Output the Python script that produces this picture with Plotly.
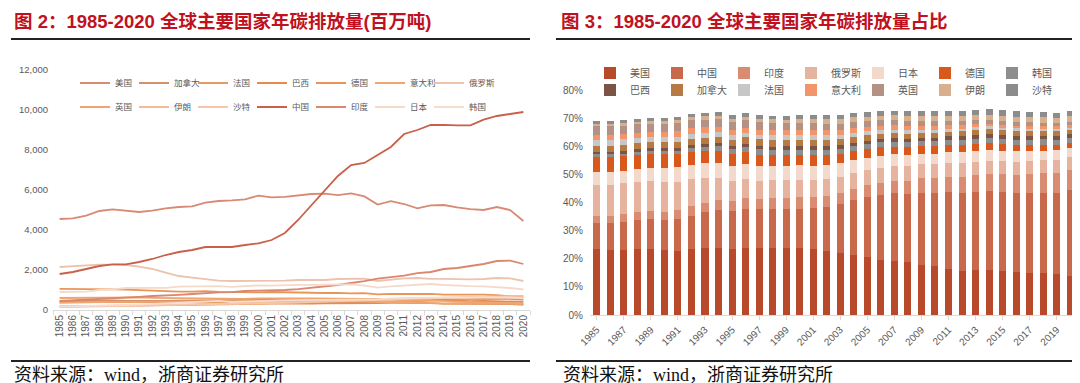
import plotly.graph_objects as go

W, H = 1080, 383

YEARS = [str(y) for y in range(1985, 2021)]

# Annual carbon emissions, million tonnes
US = [4550, 4580, 4720, 4950, 5030, 4950, 4900, 4970, 5080, 5150,
      5180, 5370, 5450, 5480, 5530, 5720, 5630, 5660, 5720, 5800,
      5820, 5740, 5830, 5680, 5270, 5440, 5300, 5080, 5230, 5250,
      5130, 5040, 5000, 5150, 5000, 4450]
CHINA = [1800, 1900, 2050, 2200, 2280, 2280, 2400, 2550, 2750, 2900,
         3000, 3150, 3150, 3150, 3250, 3330, 3500, 3850, 4500, 5250,
         6000, 6700, 7250, 7350, 7750, 8150, 8800, 9000, 9250, 9260,
         9230, 9230, 9520, 9700, 9800, 9900]
INDIA = [450, 480, 520, 560, 600, 620, 660, 700, 720, 760,
         800, 850, 880, 890, 950, 970, 980, 1000, 1040, 1100,
         1170, 1250, 1350, 1440, 1570, 1650, 1720, 1840, 1900, 2050,
         2100, 2200, 2300, 2450, 2470, 2300]
RUSSIA = [2150, 2200, 2250, 2270, 2270, 2250, 2170, 2050, 1870, 1700,
          1620, 1560, 1470, 1450, 1450, 1460, 1460, 1470, 1500, 1500,
          1500, 1550, 1550, 1570, 1450, 1530, 1580, 1600, 1560, 1560,
          1530, 1530, 1550, 1600, 1580, 1450]
JAPAN = [900, 900, 920, 1000, 1030, 1100, 1100, 1120, 1110, 1170,
         1180, 1200, 1190, 1160, 1200, 1230, 1220, 1250, 1260, 1260,
         1270, 1250, 1280, 1220, 1120, 1180, 1230, 1280, 1300, 1250,
         1210, 1190, 1180, 1150, 1100, 1030]
GERMANY = [1060, 1060, 1050, 1040, 1030, 1020, 990, 950, 940, 920,
           920, 940, 910, 890, 870, 880, 900, 880, 880, 870,
           850, 860, 830, 840, 780, 810, 790, 800, 810, 770,
           770, 780, 770, 740, 680, 630]
KOREA = [170, 180, 190, 210, 230, 250, 270, 300, 340, 370,
         400, 430, 460, 390, 420, 450, 460, 480, 490, 500,
         500, 500, 520, 530, 530, 580, 610, 610, 620, 610,
         620, 620, 640, 650, 630, 580]
BRAZIL = [180, 185, 195, 195, 200, 205, 210, 215, 225, 235,
          255, 275, 290, 300, 305, 320, 325, 320, 310, 325,
          330, 335, 350, 360, 345, 400, 420, 450, 480, 500,
          470, 440, 450, 430, 430, 410]
CANADA = [430, 440, 460, 480, 480, 460, 450, 460, 460, 470,
          480, 490, 500, 510, 520, 550, 540, 540, 560, 560,
          560, 550, 570, 560, 530, 540, 550, 550, 560, 560,
          560, 550, 560, 570, 560, 520]
FRANCE = [390, 390, 390, 380, 390, 390, 410, 400, 380, 380,
          380, 390, 380, 400, 390, 400, 400, 400, 400, 400,
          400, 390, 380, 380, 360, 360, 340, 340, 340, 310,
          310, 310, 310, 300, 300, 260]
ITALY = [360, 360, 380, 390, 410, 410, 410, 410, 400, 390,
         420, 410, 420, 430, 430, 440, 440, 450, 460, 470,
         470, 460, 460, 450, 400, 410, 400, 380, 350, 330,
         340, 340, 340, 340, 330, 290]
UK = [600, 610, 620, 620, 620, 620, 630, 610, 600, 590,
      580, 600, 580, 580, 560, 580, 590, 570, 580, 580,
      580, 580, 570, 560, 500, 520, 480, 500, 480, 440,
      420, 400, 390, 380, 370, 330]
IRAN = [150, 160, 170, 180, 190, 200, 210, 230, 250, 260,
        270, 280, 290, 300, 320, 340, 350, 380, 400, 420,
        450, 470, 500, 520, 540, 550, 560, 570, 590, 620,
        600, 620, 650, 680, 690, 700]
SAUDI = [180, 200, 200, 210, 210, 220, 240, 250, 260, 270,
         270, 280, 290, 300, 300, 320, 330, 350, 370, 390,
         410, 430, 440, 470, 500, 530, 550, 580, 580, 620,
         640, 630, 620, 600, 610, 600]
# World total emissions, million tonnes (denominator for the share chart)
WORLD = [19400, 19800, 20400, 21100, 21400, 21400, 21400, 21300, 21400, 21600,
         22200, 22600, 22900, 22900, 23300, 23900, 24100, 24800, 26000, 27100,
         28200, 29100, 30200, 30300, 29900, 31300, 32200, 32500, 33000, 33000,
         32900, 33000, 33600, 34300, 34100, 32300]

SERIES = {"美国": US, "中国": CHINA, "印度": INDIA, "俄罗斯": RUSSIA, "日本": JAPAN,
          "德国": GERMANY, "韩国": KOREA, "巴西": BRAZIL, "加拿大": CANADA, "法国": FRANCE,
          "意大利": ITALY, "英国": UK, "伊朗": IRAN, "沙特": SAUDI}

LINE_ROW1 = ["美国", "加拿大", "法国", "巴西", "德国", "意大利", "俄罗斯"]
LINE_ROW2 = ["英国", "伊朗", "沙特", "中国", "印度", "日本", "韩国"]
BAR_ROW1 = ["美国", "中国", "印度", "俄罗斯", "日本", "德国", "韩国"]
BAR_ROW2 = ["巴西", "加拿大", "法国", "意大利", "英国", "伊朗", "沙特"]

LINE_COLORS = {"美国": "#d88a72", "加拿大": "#d4906a", "法国": "#e29a66", "巴西": "#e68a4e",
               "德国": "#ea9558", "意大利": "#f0a66e", "俄罗斯": "#edc2ae", "英国": "#f0a46e",
               "伊朗": "#f5bb92", "沙特": "#f6c6a8", "中国": "#c8604a", "印度": "#d9876e",
               "日本": "#f5d9cb", "韩国": "#f6ddd0"}
BAR_COLORS = {"美国": "#b84a2b", "中国": "#c8694b", "印度": "#d98c72", "俄罗斯": "#e6b39e",
              "日本": "#f3d9cb", "德国": "#d9581b", "韩国": "#8e8e8e", "巴西": "#7b5446",
              "加拿大": "#b77a42", "法国": "#c7c7c7", "意大利": "#f2956b", "英国": "#b39185",
              "伊朗": "#d9b08e", "沙特": "#8c8c8c"}


def px(x):
    return x / W


def py(y):
    return 1 - y / H


fig = go.Figure()

# Left: line chart
for row, lg in ((LINE_ROW1, "legend"), (LINE_ROW2, "legend2")):
    for i, name in enumerate(row):
        fig.add_trace(go.Scatter(
            x=YEARS, y=SERIES[name], name=name, mode="lines",
            line=dict(color=LINE_COLORS[name], width=1.8),
            xaxis="x", yaxis="y", legend=lg,
            legendwidth=40 if i == len(row) - 1 else None))

# Right: stacked share bars
for row, lg in ((BAR_ROW1, "legend3"), (BAR_ROW2, "legend4")):
    for i, name in enumerate(row):
        share = [v / w * 100 for v, w in zip(SERIES[name], WORLD)]
        fig.add_trace(go.Bar(
            x=YEARS, y=share, name=name,
            marker=dict(color=BAR_COLORS[name], line=dict(width=0)),
            xaxis="x2", yaxis="y2", legend=lg,
            legendwidth=40 if i == len(row) - 1 else None))

TICK_FONT = dict(family="Liberation Sans, Arial, sans-serif", size=10, color="#595959")
LEG_FONT_L = dict(family="Noto Sans CJK SC", size=8.5, color="#595959")
LEG_FONT_R = dict(family="Noto Sans CJK SC", size=10, color="#595959")

PCT_VALS = list(range(0, 81, 10))

fig.update_layout(
    template="none",
    width=W, height=H, margin=dict(l=0, r=0, t=0, b=0, autoexpand=False),
    paper_bgcolor="white", plot_bgcolor="white",
    barmode="stack", bargap=0.48,
    showlegend=True,
    xaxis=dict(domain=[px(45), px(522)], anchor="y", type="category", automargin=False,
               range=[-0.5, 35.5], tickangle=-90, tickfont=TICK_FONT,
               showline=True, linecolor="#d9d9d9", ticks="outside", tickson="boundaries",
               ticklen=4, tickcolor="#d9d9d9", showgrid=False, zeroline=False),
    yaxis=dict(domain=[py(302), py(62)], anchor="x", range=[0, 12000], automargin=False,
               tickvals=list(range(0, 12001, 2000)), tickformat=",",
               tickfont=dict(family="Liberation Sans, Arial, sans-serif", size=9.5, color="#595959"),
               showgrid=False, zeroline=False, showline=False, ticks="", ticklabelstandoff=4),
    xaxis2=dict(domain=[px(582), px(1069)], anchor="y2", type="category", automargin=False,
                range=[-0.5, 35.5], tickvals=YEARS[::2], tickangle=-45, tickfont=TICK_FONT,
                showline=True, linecolor="#d9d9d9", ticks="outside",
                ticklen=4, tickcolor="#d9d9d9", showgrid=False, zeroline=False),
    yaxis2=dict(domain=[py(307), py(82)], anchor="x2", range=[0, 80], automargin=False,
                tickmode="array", tickvals=PCT_VALS, ticktext=[f"{v}%" for v in PCT_VALS],
                tickfont=TICK_FONT, showgrid=False, zeroline=False, showline=False,
                ticks="", ticklabelstandoff=6),
    legend=dict(orientation="h", x=px(67), xanchor="left", y=py(75), yanchor="middle",
                entrywidth=14, entrywidthmode="pixels", font=LEG_FONT_L,
                bgcolor="rgba(0,0,0,0)", traceorder="normal"),
    legend2=dict(orientation="h", x=px(67), xanchor="left", y=py(99), yanchor="middle",
                 entrywidth=14, entrywidthmode="pixels", font=LEG_FONT_L,
                 bgcolor="rgba(0,0,0,0)", traceorder="normal"),
    legend3=dict(orientation="h", x=px(582), xanchor="left", y=py(65), yanchor="middle",
                 entrywidth=22, entrywidthmode="pixels", font=LEG_FONT_R,
                 bgcolor="rgba(0,0,0,0)", traceorder="normal"),
    legend4=dict(orientation="h", x=px(582), xanchor="left", y=py(82), yanchor="middle",
                 entrywidth=22, entrywidthmode="pixels", font=LEG_FONT_R,
                 bgcolor="rgba(0,0,0,0)", traceorder="normal"),
)

TITLE_FONT = dict(family="Liberation Sans, Noto Sans CJK SC", size=18.5, color="#c0121e")
SRC_FONT = dict(family="Liberation Serif, Noto Sans CJK SC", size=18, color="#111111")

fig.add_annotation(text="<b>图 2：1985-2020 全球主要国家年碳排放量(百万吨)</b>",
                   xref="paper", yref="paper", x=px(4), y=py(14),
                   xanchor="left", yanchor="middle", showarrow=False, font=TITLE_FONT)
fig.add_annotation(text="<b>图 3：1985-2020 全球主要国家年碳排放量占比</b>",
                   xref="paper", yref="paper", x=px(551), y=py(14),
                   xanchor="left", yanchor="middle", showarrow=False, font=TITLE_FONT)
fig.add_annotation(text="资料来源：wind，浙商证券研究所",
                   xref="paper", yref="paper", x=px(4), y=py(367),
                   xanchor="left", yanchor="middle", showarrow=False, font=SRC_FONT)
fig.add_annotation(text="资料来源：wind，浙商证券研究所",
                   xref="paper", yref="paper", x=px(553), y=py(367),
                   xanchor="left", yanchor="middle", showarrow=False, font=SRC_FONT)

for x0, x1 in ((3, 522), (548, 1074)):
    for yy in (31, 353):
        fig.add_shape(type="line", xref="paper", yref="paper",
                      x0=px(x0), x1=px(x1), y0=py(yy), y1=py(yy),
                      line=dict(color="#222222", width=2))

fig.write_html("out.html")
